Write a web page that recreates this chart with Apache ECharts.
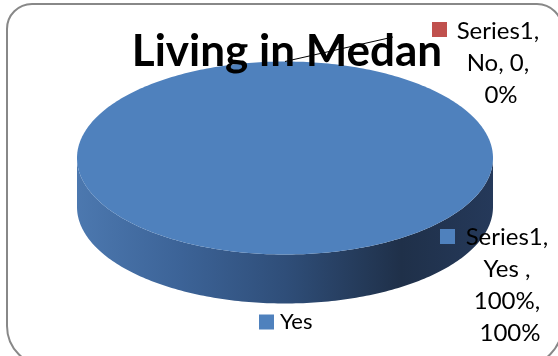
<!DOCTYPE html>
<html>
<head>
<meta charset="utf-8">
<script src="https://cdn.jsdelivr.net/npm/echarts@6/dist/echarts.min.js"></script>
<style>html,body{margin:0;padding:0;background:#fff}#c{width:558px;height:356px}</style>
</head>
<body>
<div id="c"></div>
<script>
// ---- data ----
const chartTitle = 'Living in Medan';
const seriesName = 'Series1';
const categories = ['Yes ', 'No'];
const values = [1, 0];
const valueFormats = ['0%', 'General'];
const colors = ['#4F81BD', '#C0504D'];
const legendCategories = ['Yes '];

// ---- layout (not data) ----
const PIE = { cx: 285, cy: 158, rx: 208, ry: 96.5, depth: 49 };
const LABELS = [
  { x: 510, y: 221, keyX: 440, keyY: 229 },
  { x: 501, y: 15, keyX: 432, keyY: 22, lineTo: [393, 37] }
];
const FONT = 'Lato, "Open Sans", sans-serif';

const total = values.reduce((a, b) => a + b, 0);
function fmtValue(v, f) { return f === '0%' ? Math.round(v * 100) + '%' : String(v); }
function pt(theta, dy) { return [PIE.cx + PIE.rx * Math.cos(theta), PIE.cy + PIE.ry * Math.sin(theta) + (dy || 0)]; }
function arcPts(t0, t1, dy) {
  const n = Math.max(2, Math.ceil(Math.abs(t1 - t0) / (Math.PI / 180)));
  const out = [];
  for (let k = 0; k <= n; k++) out.push(pt(t0 + (t1 - t0) * k / n, dy));
  return out;
}

function makeRender(i) {
  return function (params, api) {
    const before = values.slice(0, i).reduce((a, b) => a + b, 0);
    const a0 = -Math.PI / 2 + before / total * Math.PI * 2;
    const a1 = a0 + values[i] / total * Math.PI * 2;
    const children = [];
    const color = colors[i];
    if (a1 - a0 > 1e-9) {
      const ranges = [[0, Math.PI], [2 * Math.PI, 3 * Math.PI], [-2 * Math.PI, -Math.PI]];
      ranges.forEach(r => {
        const s = Math.max(a0, r[0]), e = Math.min(a1, r[1]);
        if (e > s) {
          const top = arcPts(s, e, 0);
          const bot = arcPts(e, s, PIE.depth);
          children.push({
            type: 'polygon',
            shape: { points: top.concat(bot) },
            style: {
              fill: {
                type: 'linear', x: PIE.cx - PIE.rx, y: 0, x2: PIE.cx + PIE.rx, y2: 0, global: true,
                colorStops: [
                  { offset: 0, color: '#4C78AF' },
                  { offset: 0.25, color: '#3C6397' },
                  { offset: 0.5, color: '#2F4E79' },
                  { offset: 0.78, color: '#1F3049' },
                  { offset: 1, color: '#25395A' }
                ]
              }
            }
          });
        }
      });
      const full = a1 - a0 >= Math.PI * 2 - 1e-9;
      const pts = arcPts(a0, a1, 0);
      children.push({
        type: 'polygon',
        shape: { points: full ? pts : [[PIE.cx, PIE.cy]].concat(pts) },
        style: { fill: color }
      });
    }
    const L = LABELS[i];
    const pct = Math.round(values[i] / total * 100) + '%';
    const txt = seriesName + ', ' + categories[i] + ', ' + fmtValue(values[i], valueFormats[i]) + ', ' + pct;
    if (L.lineTo) {
      const mid = pt((a0 + a1) / 2, 0);
      children.push({
        type: 'line', z2: 20,
        shape: { x1: mid[0], y1: mid[1], x2: L.lineTo[0], y2: L.lineTo[1] },
        style: { stroke: '#000', lineWidth: 1 }
      });
    }
    children.push({
      type: 'rect', shape: { x: L.keyX, y: L.keyY, width: 15, height: 15 },
      style: { fill: color }
    });
    children.push({
      type: 'text', z2: 20,
      style: {
        text: txt, x: L.x, y: L.y, align: 'center', verticalAlign: 'top',
        width: 92, overflow: 'break', lineHeight: 32,
        font: '24px ' + FONT, fill: '#000'
      }
    });
    return { type: 'group', children: children };
  };
}

const chart = echarts.init(document.getElementById('c'), null, { renderer: 'canvas' });
chart.setOption({
  animation: false,
  backgroundColor: '#fff',
  title: {
    text: chartTitle, left: 287, top: 30, textAlign: 'center', padding: 0,
    textStyle: { fontFamily: FONT, fontWeight: 'bold', fontSize: 44, color: '#000' }
  },
  legend: {
    data: legendCategories, left: 259, top: 311, padding: 0, icon: 'rect',
    itemWidth: 15, itemHeight: 15, itemGap: 10, selectedMode: false,
    textStyle: { fontFamily: FONT, fontSize: 22, color: '#000', padding: [0, 0, 0, 1] }
  },
  graphic: [{
    type: 'rect', silent: true, z: -1,
    shape: { x: 7, y: 4, width: 555, height: 362, r: [25, 25, 40, 40] },
    style: { fill: 'none', stroke: '#888', lineWidth: 2 }
  }],
  series: categories.map((c, i) => ({
    type: 'custom', name: c, coordinateSystem: 'none', silent: true,
    itemStyle: { color: colors[i] },
    data: [values[i]],
    renderItem: makeRender(i)
  }))
});
</script>
</body>
</html>
